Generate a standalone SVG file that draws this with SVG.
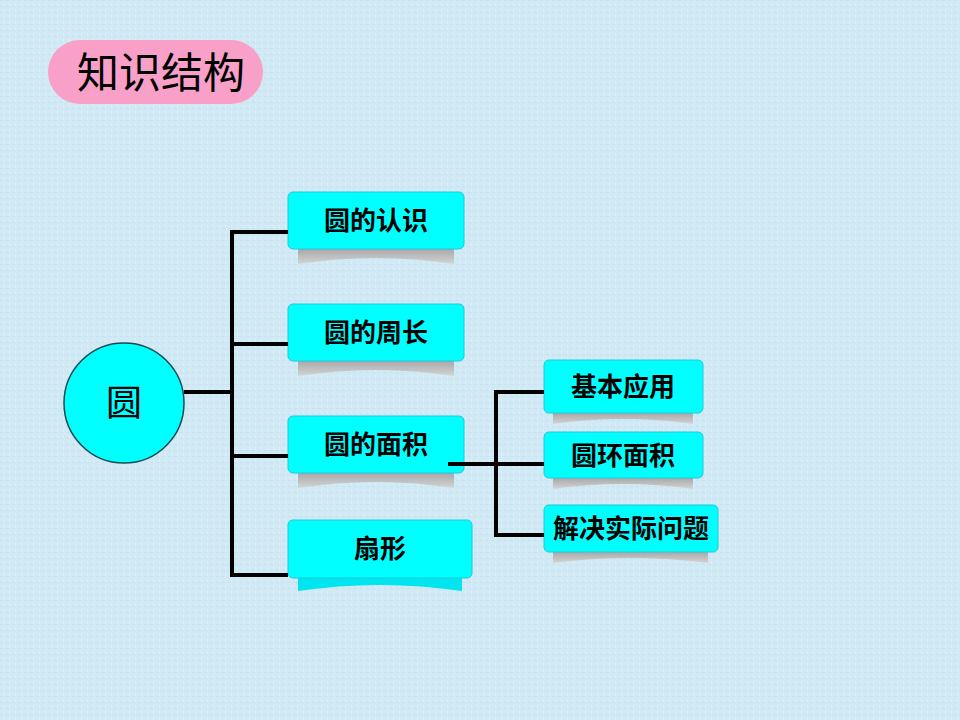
<svg xmlns="http://www.w3.org/2000/svg" width="960" height="720" viewBox="0 0 960 720">
<defs>
<linearGradient id="sh" x1="0" y1="0" x2="0" y2="1">
<stop offset="0" stop-color="#a8a8a8"/>
<stop offset="1" stop-color="#d4d4d4"/>
</linearGradient>
<pattern id="tex" width="6" height="6" patternUnits="userSpaceOnUse">
<rect width="6" height="6" fill="#d0e9f5"/>
<rect x="0" y="0" width="3" height="1" fill="#c4e2f0"/>
<rect x="3" y="3" width="1" height="3" fill="#dcf0f9"/>
</pattern>
</defs>
<style>
.box{fill:#00ffff;stroke:#20c8d8;stroke-width:1}
.shd{fill:url(#sh)}
.lbl{font-family:"Noto Sans CJK SC","Liberation Sans",sans-serif;font-size:26px;font-weight:bold;fill:#000;text-anchor:middle}
.ln{stroke:#000;stroke-width:4;fill:none}
</style>
<rect width="960" height="720" fill="url(#tex)"/>
<g id="title">
<rect x="48" y="40" width="215" height="64" rx="32" fill="#f9a0c8"/>
<text x="161" y="88" font-family="Noto Sans CJK SC, Liberation Sans, sans-serif" font-size="42" text-anchor="middle" fill="#000">知识结构</text>
</g>
<g id="root">
<circle cx="124" cy="403" r="60" fill="#00ffff" stroke="#1a4a50" stroke-width="1.5"/>
<text x="124" y="416" font-family="Noto Sans CJK SC, Liberation Sans, sans-serif" font-size="36" text-anchor="middle" fill="#000">圆</text>
</g>
<g id="n1">
<path class="shd" d="M298 249H454V264Q376 252 298 264Z"/>
<rect class="box" x="288" y="192" width="176" height="57" rx="5"/>
<text class="lbl" x="376" y="230">圆的认识</text>
</g>
<g id="n2">
<path class="shd" d="M298 361H454V376Q376 364 298 376Z"/>
<rect class="box" x="288" y="304" width="176" height="57" rx="5"/>
<text class="lbl" x="376" y="342">圆的周长</text>
</g>
<g id="n3">
<path class="shd" d="M298 473H454V488Q376 476 298 488Z"/>
<rect class="box" x="288" y="416" width="176" height="57" rx="5"/>
<text class="lbl" x="376" y="454">圆的面积</text>
</g>
<g id="n4">
<path d="M298 578H462V591Q380 579 298 591Z" fill="#00e6f0"/>
<rect class="box" x="288" y="520" width="184" height="58" rx="5"/>
<text class="lbl" x="380" y="558">扇形</text>
</g>
<g id="n5">
<path class="shd" d="M553 413H693V424Q623 414 553 424Z"/>
<rect class="box" x="544" y="360" width="159" height="53" rx="5"/>
<text class="lbl" x="623" y="396">基本应用</text>
</g>
<g id="n6">
<path class="shd" d="M553 478H693V489Q623 479 553 489Z"/>
<rect class="box" x="544" y="432" width="159" height="46" rx="5"/>
<text class="lbl" x="623" y="465">圆环面积</text>
</g>
<g id="n7">
<path class="shd" d="M553 552H708V563Q630 553 553 563Z"/>
<rect class="box" x="544" y="505" width="174" height="47" rx="5"/>
<text class="lbl" x="631" y="538">解决实际问题</text>
</g>
<g id="connectors">
<path class="ln" d="M184 392H232M232 230V577M230 232H288M230 344H288M230 456H288M230 575H288"/>
<path class="ln" d="M448 464H544M496 390V537M494 392H544M494 535H544"/>
</g>
</svg>
